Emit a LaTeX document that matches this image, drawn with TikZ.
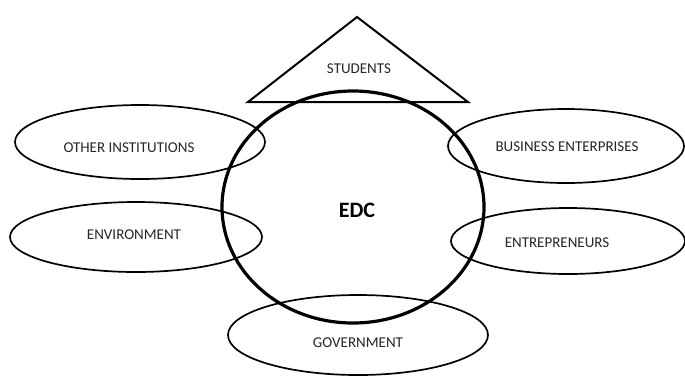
\documentclass[tikz,border=0pt]{standalone}
\usepackage{fontspec}
\setmainfont{Carlito}
\usetikzlibrary{shapes.geometric}
\begin{document}
\begin{tikzpicture}[x=1pt,y=-1pt,
  oval/.style={draw=black,ellipse,line width=1.7pt,inner sep=0pt},
  lbl/.style={font=\fontsize{15}{17}\selectfont,text=black!85,inner sep=0pt},
  hub/.style={draw=black,ellipse,line width=3.2pt,inner sep=0pt}]
\useasboundingbox (0,0) rectangle (685,376);
\draw[line width=2pt,line join=miter] (357,17) -- (248,102) -- (468,102) -- cycle;
\node[lbl] (stu) at (359,69) {STUDENTS};
\node[hub,minimum width=262pt,minimum height=232pt] (edc) at (353,207) {};
\node[font=\bfseries\fontsize{22}{24}\selectfont,inner sep=0pt] (edct) at (357,210) {EDC};
\node[oval,minimum width=250pt,minimum height=74pt] (oth) at (140,142) {};
\node[lbl] (otht) at (129,148) {OTHER INSTITUTIONS};
\node[oval,minimum width=252pt,minimum height=70pt] (env) at (136,237) {};
\node[lbl] (envt) at (134,235) {ENVIRONMENT};
\node[oval,minimum width=236pt,minimum height=74pt] (bus) at (566,146) {};
\node[lbl] (bust) at (567,147) {BUSINESS ENTERPRISES};
\node[oval,minimum width=234pt,minimum height=66pt] (ent) at (568,241) {};
\node[lbl] (entt) at (557,243) {ENTREPRENEURS};
\node[oval,minimum width=260pt,minimum height=80pt] (gov) at (358,335) {};
\node[lbl] (govt) at (358,343) {GOVERNMENT};
\end{tikzpicture}
\end{document}
